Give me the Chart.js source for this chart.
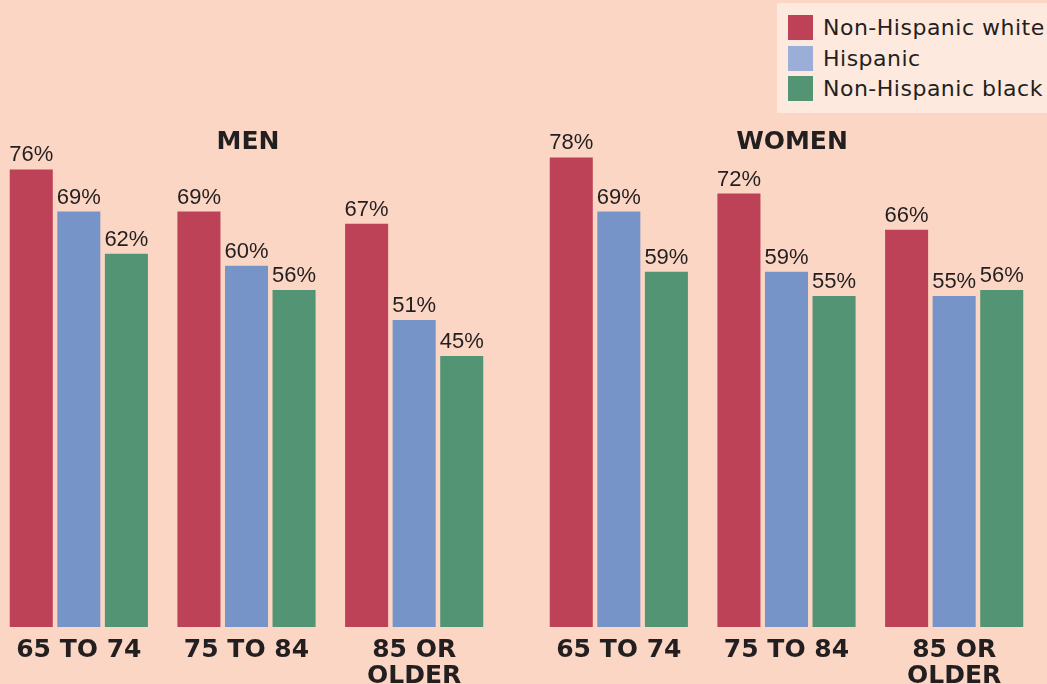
<!DOCTYPE html>
<html>
<head>
<meta charset="utf-8">
<script src="https://cdn.jsdelivr.net/npm/chart.js@4"></script>
<style>
  html, body { margin: 0; padding: 0; }
  body { width: 1047px; height: 684px; overflow: hidden; background: #fcd6c4; position: relative; }
  .panel { position: absolute; top: 0; width: 503px; height: 684px; }
  .heading { position: absolute; top: 126px; font: bold 25px "DejaVu Sans"; color: #231f20; transform: translateX(-50%); }
  #legend { position: absolute; left: 777px; top: 3px; width: 280px; height: 110px; background: #fde9de; }
  .item { position: absolute; left: 11px; font: 22px "DejaVu Sans"; letter-spacing: 0.5px; color: #231f20; white-space: nowrap; }
  .item span { display: inline-block; width: 25px; height: 25px; vertical-align: top; margin-right: 10px; }
</style>
</head>
<body>
<div class="panel" style="left:-5px"><canvas id="menChart"></canvas></div>
<div class="panel" style="left:535px"><canvas id="womenChart"></canvas></div>
<div class="heading" style="left:248px">MEN</div>
<div class="heading" style="left:792px">WOMEN</div>
<div id="legend"></div>
<script>
const ageGroups = [["65 TO 74"], ["75 TO 84"], ["85 OR", "OLDER"]];
const seriesNames = ["Non-Hispanic white", "Hispanic", "Non-Hispanic black"];
const menWhite = [76, 69, 67];
const menHispanic = [69, 60, 51];
const menBlack = [62, 56, 45];
const womenWhite = [78, 72, 66];
const womenHispanic = [69, 59, 55];
const womenBlack = [59, 55, 56];

const barColors = ["#bd4257", "#7794c9", "#529474"];
const legendColors = ["#bd4257", "#9aaed8", "#529474"];
const textColor = "#231f20";

// legend
const legend = document.getElementById("legend");
seriesNames.forEach((name, i) => {
  const row = document.createElement("div");
  row.className = "item";
  row.style.top = (12 + i * 30.5) + "px";
  row.innerHTML = `<span style="background:${legendColors[i]}"></span>${name}`;
  legend.appendChild(row);
});

// value labels above bars
const valueLabels = {
  id: "valueLabels",
  afterDatasetsDraw(chart) {
    const ctx = chart.ctx;
    ctx.save();
    ctx.font = '22px "Liberation Sans"';
    ctx.fillStyle = textColor;
    ctx.textAlign = "center";
    ctx.textBaseline = "alphabetic";
    chart.data.datasets.forEach((ds, i) => {
      chart.getDatasetMeta(i).data.forEach((bar, j) => {
        ctx.fillText(ds.data[j] + "%", bar.x, bar.y - 8);
      });
    });
    ctx.restore();
  },
};

function makeChart(id, white, hispanic, black) {
  const values = [white, hispanic, black];
  new Chart(document.getElementById(id).getContext("2d"), {
    type: "bar",
    data: {
      labels: ageGroups,
      datasets: values.map((v, i) => ({
        label: seriesNames[i],
        data: v,
        backgroundColor: barColors[i],
        barPercentage: 0.905,
        categoryPercentage: 0.851,
      })),
    },
    options: {
      responsive: false,
      animation: false,
      devicePixelRatio: 1,
      layout: { padding: { top: 25, left: 0, right: 0, bottom: 0 } },
      plugins: { legend: { display: false }, tooltip: { enabled: false } },
      scales: {
        x: {
          grid: { display: false, drawTicks: false },
          border: { display: false },
          ticks: {
            color: textColor,
            padding: 10,
            maxRotation: 0,
            font: { family: "DejaVu Sans", size: 25, weight: "bold", lineHeight: 1.04 },
          },
          afterFit: (axis) => { axis.height = 57; },
        },
        y: { display: false, min: 0, max: 100 },
      },
    },
    plugins: [valueLabels],
  });
}

document.getElementById("menChart").width = 503;
document.getElementById("menChart").height = 684;
document.getElementById("womenChart").width = 503;
document.getElementById("womenChart").height = 684;

makeChart("menChart", menWhite, menHispanic, menBlack);
makeChart("womenChart", womenWhite, womenHispanic, womenBlack);
</script>
</body>
</html>
